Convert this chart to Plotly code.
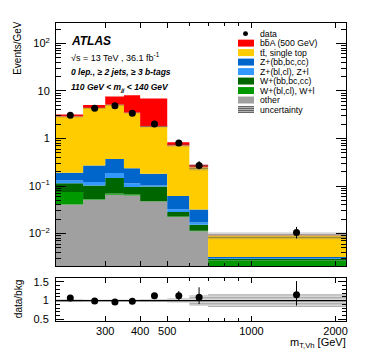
import plotly.graph_objects as go
import math

# binning in m_T,Vh [GeV]
edges = [200, 250, 300, 350, 400, 500, 600, 700, 2200]

# events / GeV per process (stack order bottom -> top)
other   = [0.041, 0.0515, 0.0657, 0.0634, 0.0474, 0.0224, 0.0112, 0.0010]
w_light = [0.034, 0.0015, 0.0043, 0.0026, 0.0006, 0.0006, 0.0002, 0.0017]
w_hf    = [0.040, 0.050, 0.077, 0.029, 0.050, 0.0055, 0.004, 0.0002]
z_light = [0.016, 0.018, 0.040, 0.020, 0.005, 0.0038, 0.0016, 0.0001]
z_hf    = [0.059, 0.148, 0.185, 0.123, 0.078, 0.0294, 0.0149, 0.0002]
ttbar   = [2.71, 4.13, 4.73, 3.23, 1.60, 0.648, 0.216, 0.0059]
bba     = [0.30, 0.70, 2.55, 4.68, 5.17, 0.12, 0.034, 0.0001]

data     = [3.1, 4.35, 4.9, 3.4, 2.01, 0.80, 0.27, 0.0105]
data_up  = [0.12, 0.15, 0.16, 0.13, 0.09, 0.09, 0.065, 0.0033]
data_dn  = [0.12, 0.15, 0.16, 0.13, 0.09, 0.08, 0.045, 0.0026]
bkg_unc  = [0.04, 0.03, 0.03, 0.03, 0.04, 0.06, 0.14, 0.17]

procs = [
    ("other", other, "#a0a0a0"),
    ("W+(bl,cl), W+l", w_light, "#009900"),
    ("W+(bb,bc,cc)", w_hf, "#006600"),
    ("Z+(bl,cl), Z+l", z_light, "#3399ff"),
    ("Z+(bb,bc,cc)", z_hf, "#0066cc"),
    ("t\u0074\u0304, single top", ttbar, "#ffcc00"),
    ("b\u0062\u0304A (500 GeV)", bba, "#ff0000"),
]

FONT = "Liberation Sans"
L, R, T, B = 48, 338, 13, 313


def px(x):
    return (x - L) / (R - L)


def py(y):
    return (B - y) / (B - T)


def step(v):
    return list(v) + [v[-1]]


centers = [(edges[i] + edges[i + 1]) / 2 for i in range(len(data))]

fig = go.Figure()

# invisible baseline below the axis range
fig.add_trace(go.Scatter(x=edges, y=step([1e-4] * len(data)), mode="lines",
                         line=dict(width=0, shape="hv"), hoverinfo="skip"))
cum = [0.0] * len(data)
bkg = None
for name, vals, col in procs:
    cum = [c + v for c, v in zip(cum, vals)]
    fig.add_trace(go.Scatter(x=edges, y=step(cum), mode="lines", fill="tonexty",
                             fillcolor=col, line=dict(width=0, shape="hv"),
                             name=name, hoverinfo="skip"))
    if name.startswith("t"):
        bkg = list(cum)

# uncertainty band on total background
hatch = dict(shape="-", fgcolor="rgba(60,60,60,0.75)", bgcolor="rgba(140,140,140,0.35)",
             size=3, solidity=0.35)
lo = [b * (1 - u) for b, u in zip(bkg, bkg_unc)]
hi = [b * (1 + u) for b, u in zip(bkg, bkg_unc)]
fig.add_trace(go.Scatter(x=edges, y=step(lo), mode="lines", line=dict(width=0, shape="hv"),
                         hoverinfo="skip"))
fig.add_trace(go.Scatter(x=edges, y=step(hi), mode="lines", line=dict(width=0, shape="hv"),
                         fill="tonexty", fillpattern=hatch, fillcolor="rgba(0,0,0,0)",
                         hoverinfo="skip"))

fig.add_trace(go.Scatter(x=centers, y=data, mode="markers",
                         marker=dict(color="black", size=7),
                         error_y=dict(type="data", symmetric=False, array=data_up,
                                      arrayminus=data_dn, color="black", thickness=1, width=0)))

# ratio panel
ratio = [d / b for d, b in zip(data, bkg)]
r_up = [e / b for e, b in zip(data_up, bkg)]
r_dn = [e / b for e, b in zip(data_dn, bkg)]
fig.add_trace(go.Scatter(x=edges, y=step([1 - u for u in bkg_unc]), mode="lines",
                         line=dict(width=0, shape="hv"), xaxis="x2", yaxis="y2", hoverinfo="skip"))
fig.add_trace(go.Scatter(x=edges, y=step([1 + u for u in bkg_unc]), mode="lines",
                         line=dict(width=0, shape="hv"), fill="tonexty", fillpattern=hatch,
                         fillcolor="rgba(0,0,0,0)", xaxis="x2", yaxis="y2", hoverinfo="skip"))
fig.add_trace(go.Scatter(x=[edges[0], edges[-1]], y=[1, 1], mode="lines",
                         line=dict(color="black", width=1.2), xaxis="x2", yaxis="y2"))
fig.add_trace(go.Scatter(x=centers, y=ratio, mode="markers", xaxis="x2", yaxis="y2",
                         marker=dict(color="black", size=7),
                         error_y=dict(type="data", symmetric=False, array=r_up,
                                      arrayminus=r_dn, color="black", thickness=1, width=0)))

xr = [math.log10(200), math.log10(2180)]
xcommon = dict(type="log", range=xr, showgrid=False, zeroline=False, showline=True,
               linecolor="black", linewidth=1, mirror="ticks", ticks="inside",
               tickvals=[300, 400, 500, 1000, 2000], ticklen=5, tickcolor="black",
               minor=dict(tickvals=[600, 700, 800, 900], ticks="inside", ticklen=3,
                          tickcolor="black"))

fig.update_layout(
    width=366, height=351,
    margin=dict(l=L, r=366 - R, t=T, b=351 - B),
    paper_bgcolor="white", plot_bgcolor="white",
    showlegend=False,
    font=dict(family=FONT, size=11, color="black"),
    xaxis=dict(xcommon, domain=[0, 1], anchor="y", showticklabels=False),
    xaxis2=dict(xcommon, domain=[0, 1], anchor="y2", matches="x",
                ticktext=["300", "400", "500", "1000", "2000"],
                tickfont=dict(size=11), ticklabelstandoff=0),
    yaxis=dict(type="log", domain=[py(258), 1], range=[-2.69, 2.43], showgrid=False,
               zeroline=False, showline=True, linecolor="black", mirror="ticks",
               ticks="inside", ticklen=10, tickcolor="black",
               tickvals=[0.01, 0.1, 1, 10, 100],
               ticktext=["10<sup>\u22122</sup>", "10<sup>\u22121</sup>", "1", "10",
                         "10<sup>2</sup>"],
               tickfont=dict(size=11), ticklabelstandoff=3,
               minor=dict(ticks="inside", ticklen=5, tickcolor="black",
                          tickvals=[m * 10 ** e for e in range(-3, 3) for m in range(2, 10)])),
    yaxis2=dict(domain=[0, py(270)], range=[0.46, 1.59], showgrid=False, zeroline=False,
                showline=True, linecolor="black", mirror="ticks", ticks="inside",
                ticklen=8, tickcolor="black", tickvals=[0.5, 1, 1.5],
                ticktext=["0.5", "1", "1.5"], tickfont=dict(size=11), ticklabelstandoff=4,
                minor=dict(ticks="inside", ticklen=4, tickcolor="black",
                           tickvals=[0.6, 0.7, 0.8, 0.9, 1.1, 1.2, 1.3, 1.4])),
)

ann = []


def txt(x, y, s, size=9, xanchor="left", angle=0):
    ann.append(dict(x=px(x), y=py(y), xref="paper", yref="paper", text=s, showarrow=False,
                    xanchor=xanchor, yanchor="middle", textangle=angle,
                    font=dict(family=FONT, size=size, color="black")))


txt(61, 31, "<b><i>ATLAS</i></b>", 12)
txt(61, 47, "\u221as = 13 TeV , 36.1 fb<sup>-1</sup>", 9)
txt(61, 62, "<b><i>0 lep., \u2265 2 jets, \u2265 3 b-tags</i></b>", 8.5)
txt(61, 78, "<b><i>110 GeV &lt; m<sub>jj</sub> &lt; 140 GeV</i></b>", 8.5)
txt(10, 38, "Events/GeV", 10, "center", -90)
txt(10, 291, "data/bkg", 10, "center", -90)
txt(340, 335, "m<sub>T,Vh</sub> [GeV]", 11, "right")

# hand-made legend
shapes = []
rows = [("data", None)] + [(n, c) for n, _, c in reversed(procs)] + [("uncertainty", "unc")]
y0 = 23.7
for i, (name, col) in enumerate(rows):
    yc = y0 + i * 9.55
    txt(250, yc, name, 8.7)
    if col is None:
        shapes.append(dict(type="circle", xref="paper", yref="paper", fillcolor="black",
                           line=dict(width=0), x0=px(235), x1=px(240),
                           y0=py(yc + 2.5), y1=py(yc - 2.5)))
    elif col == "unc":
        shapes.append(dict(type="rect", xref="paper", yref="paper", fillcolor="#b4b4b4",
                           line=dict(width=0), x0=px(230), x1=px(246),
                           y0=py(yc + 3.5), y1=py(yc - 3.5)))
        for k in range(4):
            yy = yc - 3 + k * 2
            shapes.append(dict(type="line", xref="paper", yref="paper",
                               line=dict(color="#505050", width=0.8),
                               x0=px(230), x1=px(246), y0=py(yy), y1=py(yy)))
    else:
        shapes.append(dict(type="rect", xref="paper", yref="paper", fillcolor=col,
                           line=dict(width=0), x0=px(230), x1=px(246),
                           y0=py(yc + 3.5), y1=py(yc - 3.5)))

fig.update_layout(annotations=ann, shapes=shapes)

fig.write_html("out.html")
